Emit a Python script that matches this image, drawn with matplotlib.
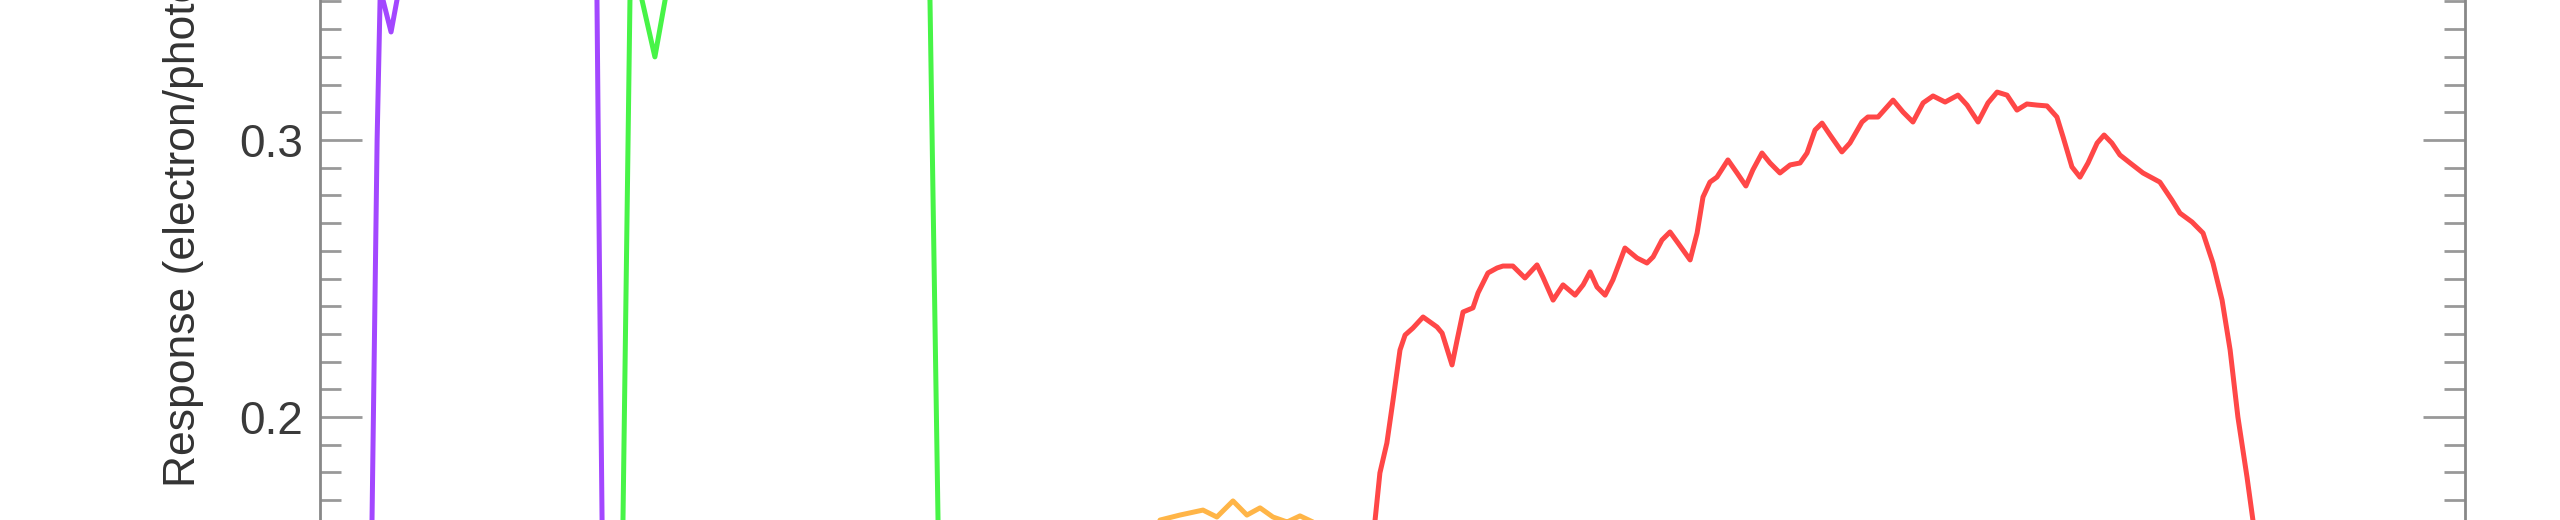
import matplotlib
matplotlib.use("Agg")
import matplotlib.pyplot as plt
from matplotlib.ticker import MultipleLocator

plt.rcParams['font.family'] = ['Liberation Sans', 'DejaVu Sans']

# wavelength (nm) / response (electron/photon)
purple_wl = [318.3, 319.4, 321.3, 322.4, 322.9, 323.5, 326.5, 328.7, 330.6,
             348.5, 374.6, 397.0, 403.2, 403.3, 404.2, 405.2, 405.5]
purple_resp = [0.0978, 0.1628, 0.3000, 0.3505, 0.3596, 0.3505, 0.3390, 0.3505, 0.3650,
               0.3720, 0.3680, 0.3650, 0.3650, 0.3505, 0.2567, 0.1628, 0.1267]

green_wl = [412.3, 412.6, 413.0, 414.3, 415.6, 417.9, 420.1, 424.9, 428.7, 431.3,
            460.4, 497.7, 523.8, 527.5, 529.0, 530.5, 530.9]
green_resp = [0.1000, 0.1267, 0.1628, 0.2567, 0.3505, 0.3614, 0.3505, 0.3300, 0.3505, 0.3650,
              0.3720, 0.3680, 0.3650, 0.3505, 0.2567, 0.1628, 0.1267]

orange_wl = [605.8, 613.3, 620.7, 629.3, 634.5, 640.5, 645.7, 650.6, 655.4,
             660.7, 665.5, 670.3, 676.7]
orange_resp = [0.1412, 0.1628, 0.1646, 0.1664, 0.1639, 0.1697, 0.1646, 0.1672, 0.1639,
               0.1621, 0.1643, 0.1621, 0.1484]

red_wl = [691.6, 693.5, 695.3, 697.9, 700.2, 702.8, 704.7, 707.6, 711.4, 714.0,
          716.6, 718.5, 722.2, 724.1, 726.3, 730.0, 731.9, 735.6, 739.0, 741.2,
          744.9, 749.4, 753.9, 756.1, 759.9, 763.6, 768.1, 771.1, 773.7, 776.3,
          779.3, 782.2, 786.7, 791.2, 794.9, 797.2, 800.5, 803.5, 806.5, 811.0,
          813.6, 815.8, 818.4, 821.0, 825.1, 828.5, 831.8, 834.4, 837.8, 840.8,
          844.5, 848.3, 852.0, 854.6, 857.6, 860.2, 863.2, 867.6, 870.6, 875.1,
          877.3, 881.1, 886.7, 890.4, 894.1, 897.9, 901.6, 906.1, 910.9, 914.3,
          918.4, 922.1, 925.5, 929.2, 932.9, 936.6, 940.4, 944.1, 947.8, 950.1,
          953.4, 956.4, 959.4, 962.8, 965.4, 968.3, 971.3, 975.1, 979.9, 986.2,
          990.7, 993.7, 998.2, 1002.3, 1006.0, 1009.4, 1012.4, 1015.3, 1018.7, 1020.9,
          1022.1]
red_resp = [0.1339, 0.1628, 0.1798, 0.1906, 0.2061, 0.2242, 0.2296, 0.2321, 0.2361, 0.2343,
            0.2325, 0.2303, 0.2188, 0.2278, 0.2379, 0.2394, 0.2448, 0.2520, 0.2538, 0.2545,
            0.2545, 0.2502, 0.2549, 0.2505, 0.2422, 0.2477, 0.2440, 0.2477, 0.2524, 0.2469,
            0.2440, 0.2495, 0.2610, 0.2574, 0.2556, 0.2578, 0.2639, 0.2668, 0.2628, 0.2567,
            0.2664, 0.2794, 0.2848, 0.2866, 0.2928, 0.2881, 0.2834, 0.2892, 0.2953, 0.2917,
            0.2881, 0.2910, 0.2917, 0.2953, 0.3036, 0.3061, 0.3018, 0.2957, 0.2989, 0.3065,
            0.3083, 0.3083, 0.3144, 0.3101, 0.3065, 0.3134, 0.3159, 0.3137, 0.3162, 0.3126,
            0.3065, 0.3134, 0.3173, 0.3162, 0.3108, 0.3130, 0.3126, 0.3123, 0.3083, 0.3011,
            0.2903, 0.2866, 0.2917, 0.2989, 0.3018, 0.2989, 0.2946, 0.2917, 0.2881, 0.2848,
            0.2783, 0.2736, 0.2704, 0.2664, 0.2556, 0.2422, 0.2242, 0.2000, 0.1783, 0.1628,
            0.1484]

fig = plt.figure(figsize=(25.6, 5.2), dpi=100)
ax = fig.add_axes([0.125, 0.0, 0.83789, 1.0])

alpha = 0.72
lw = 3.6
ax.plot(purple_wl, purple_resp, color="#8000ff", lw=lw, alpha=alpha)
ax.plot(green_wl, green_resp, color="#00f000", lw=lw, alpha=alpha)
ax.plot(orange_wl, orange_resp, color="#ff9900", lw=lw, alpha=alpha)
ax.plot(red_wl, red_resp, color="#ff0000", lw=lw, alpha=alpha)

ax.set_xlim(300, 1100)
ax.set_ylim(0.16282, 0.35054)

ax.spines["top"].set_visible(False)
ax.spines["bottom"].set_visible(False)
for s in ("left", "right"):
    ax.spines[s].set_color("#888888")
    ax.spines[s].set_linewidth(2)

ax.set_xticks([])
ax.yaxis.set_major_locator(MultipleLocator(0.1))
ax.yaxis.set_minor_locator(MultipleLocator(0.01))
ax.tick_params(axis="y", which="both", direction="in", left=True, right=True,
               color="#999999", labelcolor="#3a3a3a", labelsize=33, pad=12)
ax.tick_params(axis="y", which="major", length=30, width=2)
ax.tick_params(axis="y", which="minor", length=15, width=2)

ax.set_ylabel("Response (electron/photon)", fontsize=32, color="#333333", ha="left")
ax.yaxis.set_label_coords(-0.0541, 0.0635)

fig.savefig("out.png", dpi=100)
